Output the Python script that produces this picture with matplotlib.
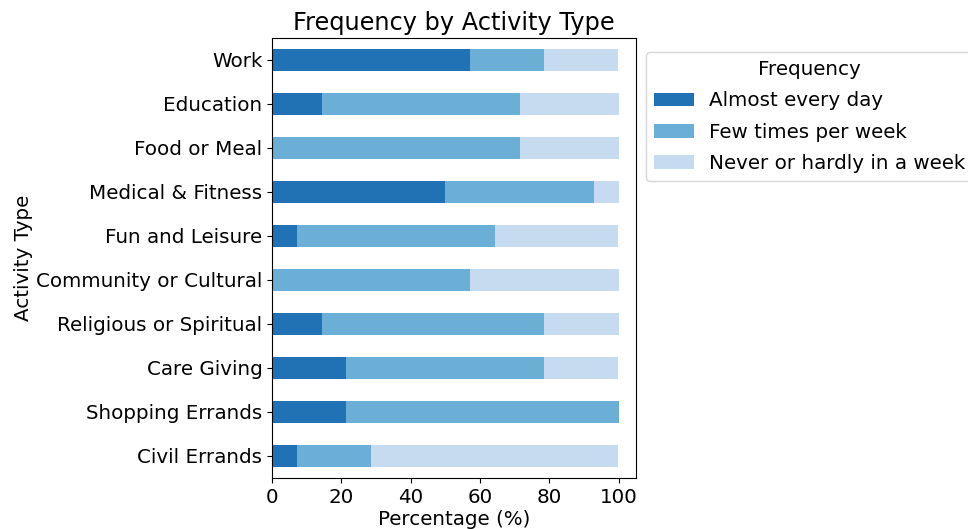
import numpy as np
import matplotlib.pyplot as plt

# Activity types (top to bottom as shown)
activities = ["Work", "Education", "Food or Meal", "Medical & Fitness",
              "Fun and Leisure", "Community or Cultural", "Religious or Spiritual",
              "Care Giving", "Shopping Errands", "Civil Errands"]

# Percentages per frequency level
almost_every_day = [57.1, 14.3, 0.0, 50.0, 7.1, 0.0, 14.3, 21.4, 21.4, 7.1]
few_times_week = [21.4, 57.1, 71.4, 42.9, 57.1, 57.1, 64.3, 57.1, 78.6, 21.4]
never_hardly = [21.4, 28.6, 28.6, 7.1, 35.7, 42.9, 21.4, 21.4, 0.0, 71.4]

series = ["Almost every day", "Few times per week", "Never or hardly in a week"]
colors = ["#2171b5", "#6baed6", "#c6dbef"]

fs = 14.3

fig = plt.figure(figsize=(9.68, 5.29), dpi=100)
ax = fig.add_axes([0.281, 0.0964, 0.376, 0.832])

y = np.arange(len(activities))[::-1]
left = np.zeros(len(activities))
for name, vals, c in zip(series, [almost_every_day, few_times_week, never_hardly], colors):
    vals = np.array(vals)
    ax.barh(y, vals, left=left, height=0.5, color=c, label=name)
    left += vals

ax.set_yticks(y)
ax.set_yticklabels(activities)
ax.set_ylim(-0.5, len(activities) - 0.5)
ax.set_xlim(0, 105)
ax.set_xticks([0, 20, 40, 60, 80, 100])
ax.tick_params(labelsize=fs)
ax.set_title("Frequency by Activity Type", fontsize=17.3, pad=6)
ax.set_xlabel("Percentage (%)", fontsize=fs, labelpad=2)
ax.set_ylabel("Activity Type", fontsize=fs, labelpad=2)

ax.legend(title="Frequency", loc="upper left", bbox_to_anchor=(1.0, 0.99),
          fontsize=fs, title_fontsize=fs, labelspacing=0.62)

plt.savefig("out.png")
